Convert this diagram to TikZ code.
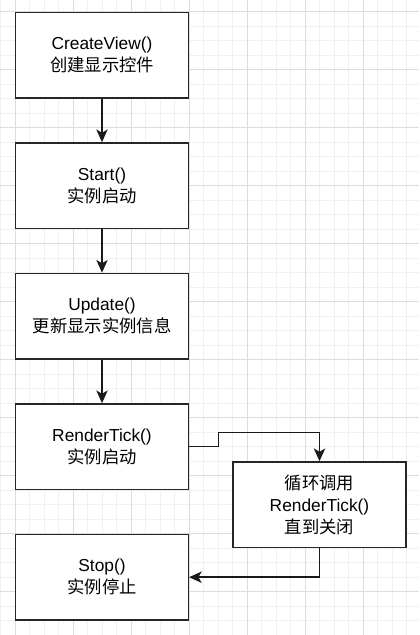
\documentclass[tikz,border=0pt]{standalone}
\usepackage{fontspec}
\setmainfont{Liberation Sans}
\newfontfamily\cjk{Noto Sans CJK SC}
\usetikzlibrary{arrows.meta}
\definecolor{gridminor}{HTML}{F0F0F0}
\definecolor{gridmajor}{HTML}{DDDDDD}
\begin{document}
\begin{tikzpicture}[x=0.75pt,y=-0.75pt,
  box/.style={draw=black!85,line width=1.1pt,fill=white,minimum width=129.5pt,minimum height=64.2pt,inner sep=0pt,align=center,font=\fontsize{13}{16.5}\selectfont},
  arr/.style={draw=black!90,line width=1.1pt,-{Stealth[length=9.5pt,width=8.5pt,inset=2.5pt]}}]
\useasboundingbox (0,0) rectangle (419,635);
\fill[white] (0,0) rectangle (419,635);
% grid
\foreach \k in {-1,...,28} {\draw[gridminor,line width=0.75pt] ({15+14.5*\k},0) -- ({15+14.5*\k},635);}
\foreach \k in {-1,...,43} {\draw[gridminor,line width=0.75pt] (0,{11.7+14.5*\k}) -- (419,{11.7+14.5*\k});}
\foreach \k in {-1,...,7} {\draw[gridmajor,line width=0.75pt] ({15+58*\k},0) -- ({15+58*\k},635);}
\foreach \k in {-1,...,11} {\draw[gridmajor,line width=0.75pt] (0,{11.7+58*\k}) -- (419,{11.7+58*\k});}
% nodes
\node[box] (r1) at (102,55.2) {CreateView()\\{\cjk 创建显示控件}};
\node[box] (r2) at (102,185.7) {Start()\\{\cjk 实例启动}};
\node[box] (r3) at (102,316.2) {Update()\\{\cjk 更新显示实例信息}};
\node[box] (r4) at (102,446.7) {RenderTick()\\{\cjk 实例启动}};
\node[box] (r5) at (102,577.2) {Stop()\\{\cjk 实例停止}};
\node[box] (loop) at (319.5,504.7) {{\cjk 循环调用}\\RenderTick()\\{\cjk 直到关闭}};
% connectors
\draw[arr] (r1) -- (r2);
\draw[arr] (r2) -- (r3);
\draw[arr] (r3) -- (r4);
\coordinate (k1) at (218.3,432.3);
\draw[arr] (r4.east) -| (k1) -| (loop.north);
\draw[arr] (loop.south) |- (r5.east);
\end{tikzpicture}
\end{document}
